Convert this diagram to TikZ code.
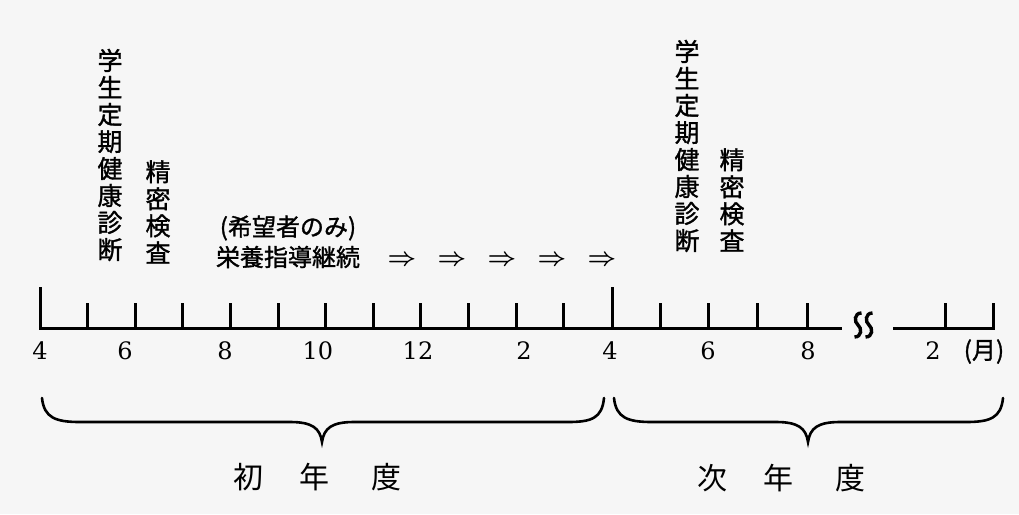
\documentclass[tikz,border=0pt]{standalone}
\usepackage{fontspec}
\newfontfamily\cjk[FakeBold=1.3]{Noto Sans CJK JP}
\newfontfamily\cjklight{Noto Sans CJK JP}
\newfontfamily\numfont{DejaVu Serif}
\definecolor{paper}{RGB}{246,246,246}
\begin{document}
\begin{tikzpicture}[x=1pt,y=-1pt,
  axisline/.style={line width=3pt, line join=miter},
  tickmark/.style={line width=3pt},
  bracepath/.style={line width=2.6pt, line cap=round},
  vtext/.style={font=\cjk\fontsize{25}{27}\selectfont, align=center, inner sep=0pt},
  htext/.style={font=\cjk\fontsize{24}{27}\selectfont, inner sep=0pt},
  ytext/.style={font=\cjklight\fontsize{30}{30}\selectfont, inner sep=0pt},
  num/.style={font=\numfont\fontsize{24}{24}\selectfont, inner sep=0pt, anchor=base},
  arr/.style={font=\fontsize{23}{23}\selectfont\boldmath, inner sep=0pt}]
\fill[paper] (0,0) rectangle (1019,514);
\useasboundingbox (0,0) rectangle (1019,514);

% vertical labels
\node[vtext] (k1) at (110,155) {学\\生\\定\\期\\健\\康\\診\\断};
\node[vtext] (s1) at (158,212) {精\\密\\検\\査};
\node[vtext] (k2) at (687,146) {学\\生\\定\\期\\健\\康\\診\\断};
\node[vtext] (s2) at (732,200) {精\\密\\検\\査};

% nutrition guidance
\node[htext] (kibo) at (288,228) {(希望者のみ)};
\node[htext] (eiyo) at (288,257) {栄養指導継続};
\foreach \x [count=\i] in {402,452,502,552,602}
  \node[arr] (a\i) at (\x,261) {$\Rightarrow$};

% axis
\draw[axisline] (40,287) -- (40,328) -- (842,328);
\draw[tickmark] (612,287) -- (612,328);
\foreach \k in {1,...,11}
  \draw[tickmark] (40+47.6*\k,303) -- (40+47.6*\k,328);
\foreach \x in {660,708,757,807}
  \draw[tickmark] (\x,303) -- (\x,328);
\draw[axisline] (893,328) -- (993,328) -- (993,303);
\draw[tickmark] (945,303) -- (945,328);

% break mark
\foreach \c in {858,869}
  \draw[line width=3.4pt] (\c+3.5,313) .. controls (\c-4,313) and (\c-4,322) .. (\c,325)
    .. controls (\c+4,328) and (\c+4,337) .. (\c-3.5,337);

% month labels
\foreach \x/\t [count=\i] in {40/4,125/6,225/8,318/10,418/12,524/2,610/4,708/6,808/8,933/2}
  \node[num] (m\i) at (\x,359) {\t};
\node[font=\cjk\fontsize{24}{24}\selectfont, inner sep=0pt, anchor=base] (tsuki) at (984,359) {(月)};

% braces
\draw[bracepath] (42,398) .. controls (44,418) and (56,422) .. (80,422) -- (290,422)
  .. controls (312,422) and (320,428) .. (322,442)
  .. controls (324,428) and (332,422) .. (354,422) -- (568,422)
  .. controls (592,422) and (602,418) .. (604,398);
\draw[bracepath] (614,398) .. controls (616,418) and (628,422) .. (652,422) -- (776,422)
  .. controls (798,422) and (806,428) .. (808,442)
  .. controls (810,428) and (818,422) .. (840,422) -- (966,422)
  .. controls (990,422) and (1001,418) .. (1003,398);

% year labels
\node[ytext] (y1a) at (248,477) {初};
\node[ytext] (y1b) at (314,477) {年};
\node[ytext] (y1c) at (386,477) {度};
\node[ytext] (y2a) at (712,478) {次};
\node[ytext] (y2b) at (778,478) {年};
\node[ytext] (y2c) at (850,478) {度};
\end{tikzpicture}
\end{document}
